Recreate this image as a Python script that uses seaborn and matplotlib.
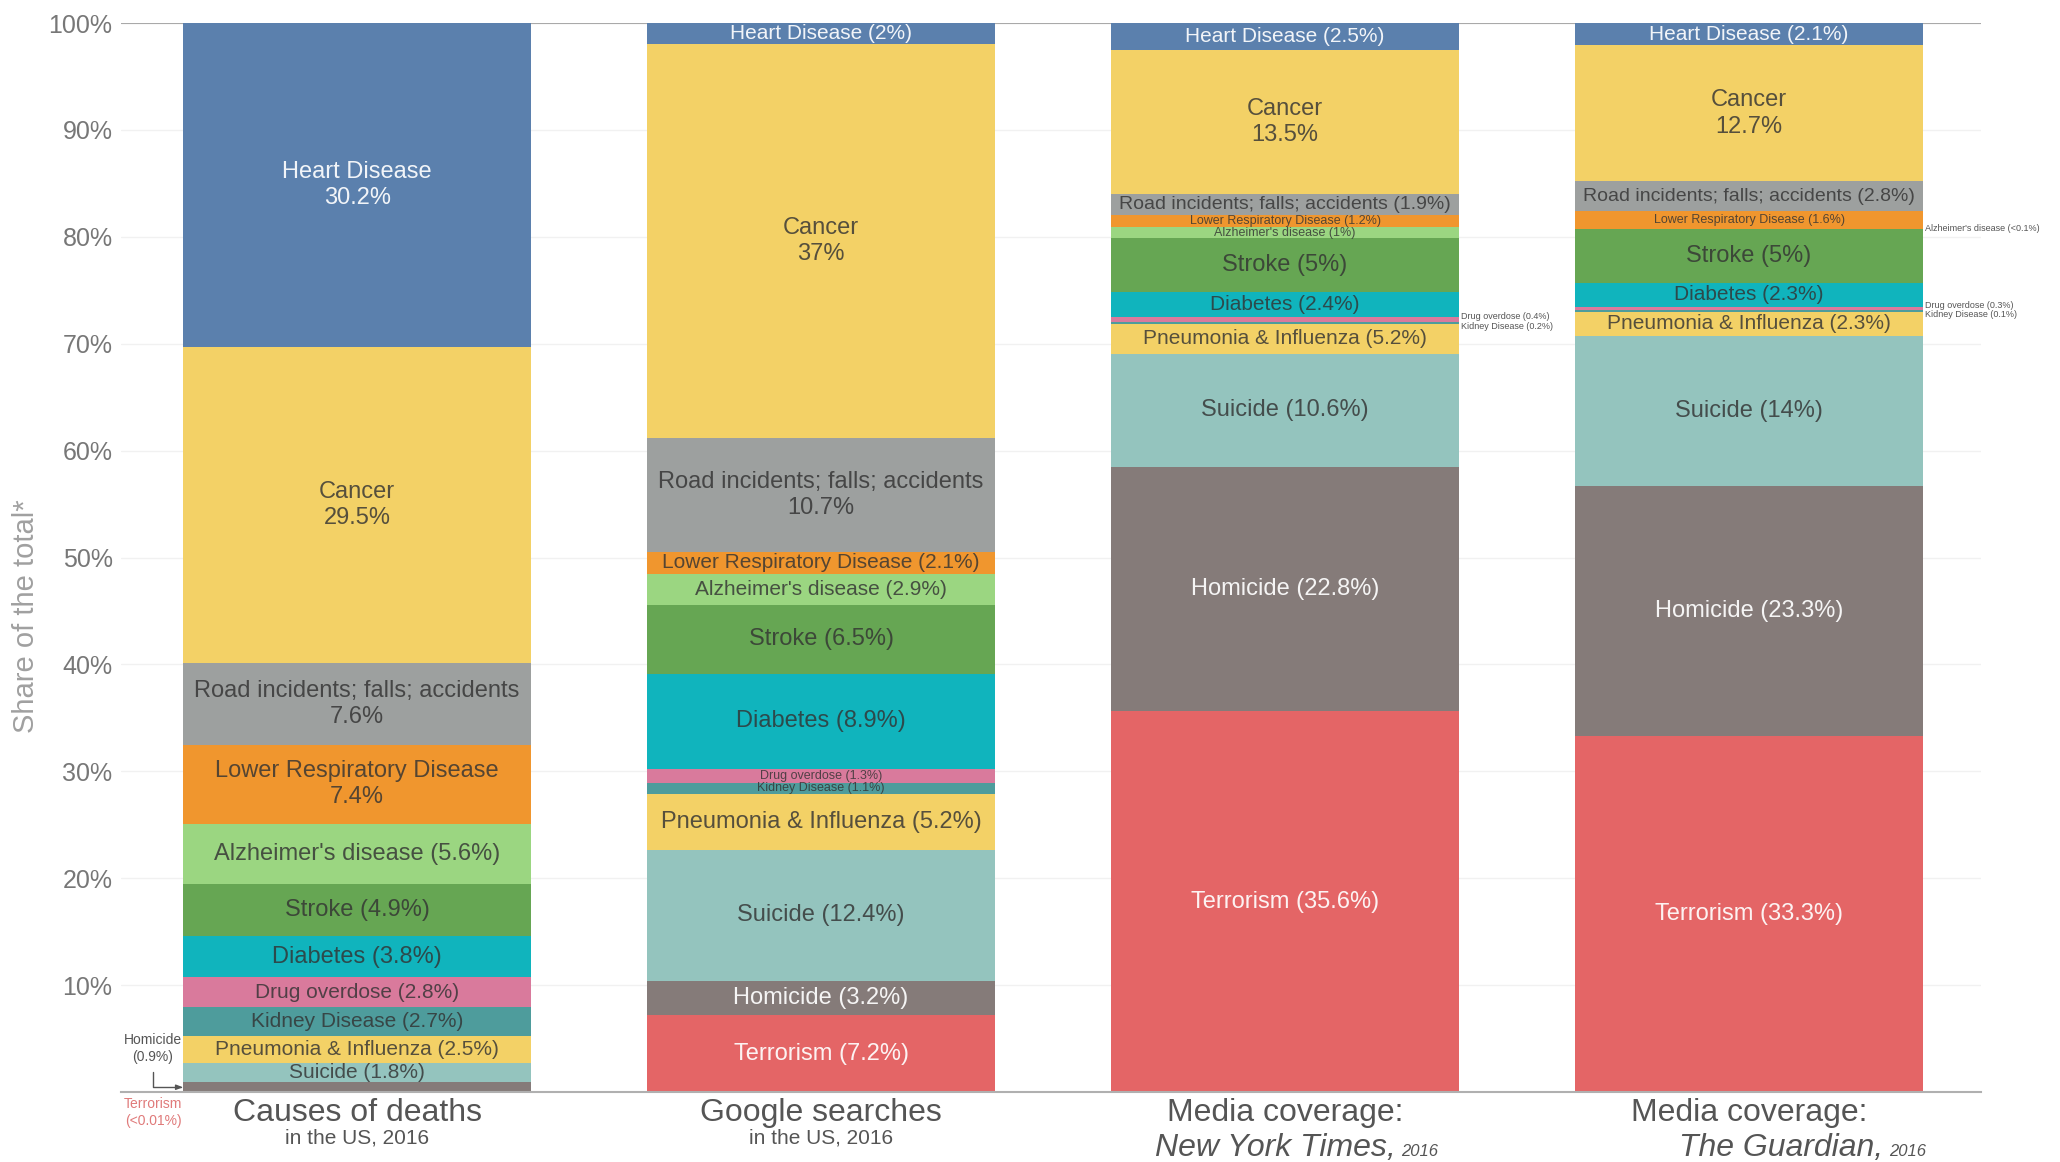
import numpy as np
import matplotlib.pyplot as plt
import seaborn as sns

# stacked from the bottom up
causes = ["Terrorism", "Homicide", "Suicide", "Pneumonia & Influenza", "Kidney Disease",
          "Drug overdose", "Diabetes", "Stroke", "Alzheimer's disease",
          "Lower Respiratory Disease", "Road incidents; falls; accidents", "Cancer",
          "Heart Disease"]
columns = ["Causes of deaths", "Google searches", "New York Times", "The Guardian"]

deaths = [0.01, 0.9, 1.8, 2.5, 2.7, 2.8, 3.8, 4.9, 5.6, 7.4, 7.6, 29.5, 30.2]
google = [7.2, 3.2, 12.4, 5.2, 1.1, 1.3, 8.9, 6.5, 2.9, 2.1, 10.7, 37, 2]
nyt = [35.6, 22.8, 10.6, 2.8, 0.2, 0.4, 2.4, 5, 1, 1.2, 1.9, 13.5, 2.5]
guardian = [33.3, 23.3, 14, 2.3, 0.1, 0.3, 2.3, 5, 0.05, 1.6, 2.8, 12.7, 2.1]

# printed labels that differ from the drawn height
label_override = {(2, "Pneumonia & Influenza"): "5.2%", (3, "Alzheimer's disease"): "<0.1%"}

palette = {
    "Terrorism": "#e46566", "Homicide": "#857b79", "Suicide": "#94c4be",
    "Pneumonia & Influenza": "#f3d166", "Kidney Disease": "#4e9c9c",
    "Drug overdose": "#d97a9c", "Diabetes": "#10b4bd", "Stroke": "#66a653",
    "Alzheimer's disease": "#9bd681", "Lower Respiratory Disease": "#f0962e",
    "Road incidents; falls; accidents": "#9da09f", "Cancer": "#f3d166",
    "Heart Disease": "#5b80ad",
}
white_text = {"Heart Disease", "Homicide", "Terrorism"}
two_line = {"Heart Disease", "Cancer", "Road incidents; falls; accidents",
            "Lower Respiratory Disease"}
outside_offset = {"Drug overdose": 0.28, "Kidney Disease": -0.32}

sns.set_style("white")
plt.rcParams['font.family'] = ['Liberation Sans', 'DejaVu Sans']

fig = plt.figure(figsize=(20.6, 11.62), dpi=100)
ax = fig.add_axes([0.0587, 0.0602, 0.903, 0.92])

data = np.array([deaths, google, nyt, guardian])
shares = data / data.sum(axis=1, keepdims=True) * 100

bottoms = np.zeros(len(columns))
for i, cause in enumerate(causes):
    sns.barplot(x=columns, y=shares[:, i], bottom=bottoms.copy(), color=palette[cause],
                saturation=1, width=0.75, linewidth=0, errorbar=None, ax=ax)
    bottoms += shares[:, i]

ax.set_xlim(-0.509, 3.5)
ax.set_ylim(0, 100)
ax.set_xticks([])
ax.set_xlabel('')
ax.set_yticks(range(10, 101, 10))
ax.set_yticklabels([f"{t}%" for t in range(10, 101, 10)], fontsize=18, color='#777777')
ax.tick_params(axis='y', length=0, pad=6)
ax.set_axisbelow(True)
ax.yaxis.grid(True, color='#f1f1f1', lw=1)
ax.axhline(100, color='#a9a9a9', lw=1.5, zorder=0.6)
for s in ['top', 'left', 'right']:
    ax.spines[s].set_visible(False)
ax.spines['bottom'].set_color('#b0b0b0')
ax.spines['bottom'].set_linewidth(1.5)

dark = '#333333'
fit = []
for j in range(len(columns)):
    base = 0
    for i, cause in enumerate(causes):
        h = shares[j, i]
        v = data[j, i]
        mid = base + h / 2
        base += h
        val = label_override.get((j, cause), f"{v:g}%")
        if j == 0 and cause in ("Terrorism", "Homicide"):
            continue
        if h < 0.6:
            ax.text(j + 0.38, mid + outside_offset.get(cause, 0), f"{cause} ({val})",
                    ha='left', va='center', fontsize=6.5, color='#555555')
            continue
        col = 'white' if cause in white_text else dark
        alpha = 0.92 if col == 'white' else 0.82
        if h < 1.7:
            txt, fs = f"{cause} ({val})", 9
        elif cause in two_line and h >= 7:
            txt, fs = f"{cause}\n{val}", 17
        else:
            txt, fs = f"{cause} ({val})", 17 if h >= 3 else 15
        t = ax.text(j, mid, txt, ha='center', va='center', fontsize=fs, color=col,
                    alpha=alpha, linespacing=1.25)
        fit.append(t)

# small annotations left of the first bar
ax.text(-0.44, 4.1, "Homicide\n(0.9%)", ha='center', va='center', fontsize=10,
        color='#555555', linespacing=1.3)
ax.annotate("", xy=(-0.375, 0.45), xytext=(-0.44, 1.9),
            arrowprops=dict(arrowstyle='-|>,head_length=0.4,head_width=0.15',
                            connectionstyle='angle,angleA=90,angleB=0,rad=0',
                            color='#555555', lw=1, shrinkA=0, shrinkB=0))
ax.text(-0.44, -1.9, "Terrorism\n(<0.01%)", ha='center', va='center', fontsize=10,
        color='#e07a7a', linespacing=1.3, clip_on=False)

# column titles
ax.text(0, -2.0, "Causes of deaths", ha='center', va='center', fontsize=23, color='#555555')
ax.text(0, -4.3, "in the US, 2016", ha='center', va='center', fontsize=15, color='#555555')
ax.text(1, -2.0, "Google searches", ha='center', va='center', fontsize=23, color='#555555')
ax.text(1, -4.3, "in the US, 2016", ha='center', va='center', fontsize=15, color='#555555')
for x, name, split in [(2, "New York Times,", 0.238), (3, "The Guardian,", 0.289)]:
    ax.text(x, -2.0, "Media coverage:", ha='center', va='center', fontsize=23, color='#555555')
    ax.text(x + split, -6.0, name, ha='right', va='baseline', fontsize=23,
            style='italic', color='#555555')
    ax.text(x + split + 0.012, -6.0, "2016", ha='left', va='baseline', fontsize=12,
            style='italic', color='#555555')

fig.text(0.0126, 0.47, "Share of the total*", rotation=90, ha='center', va='center',
         fontsize=21, color='#a0a0a0')

# shrink labels that would overflow the bar width
fig.canvas.draw()
renderer = fig.canvas.get_renderer()
bar_px = ax.transData.transform((0.75, 0))[0] - ax.transData.transform((0, 0))[0]
for t in fit:
    w = t.get_window_extent(renderer).width
    if w > 0.95 * bar_px:
        t.set_fontsize(t.get_fontsize() * 0.95 * bar_px / w)

fig.savefig('out.png', dpi=100)
